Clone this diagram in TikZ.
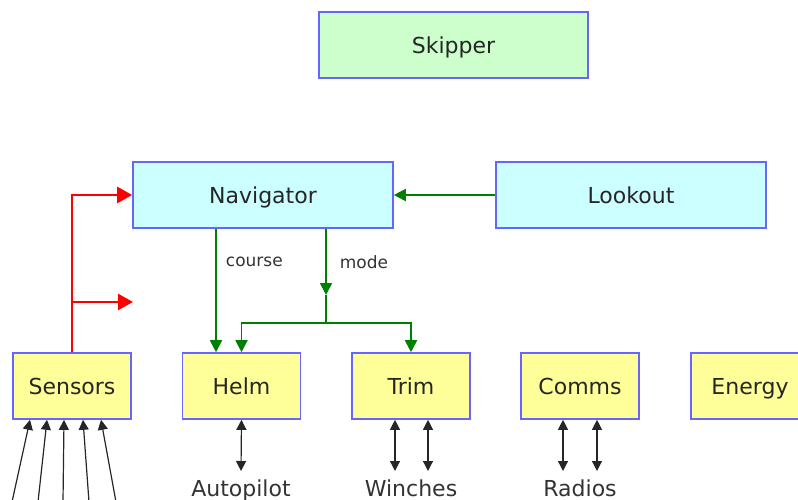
\documentclass[tikz,border=0pt]{standalone}
\usepackage{fontspec}
\setmainfont{DejaVu Sans}
\usepackage{tikz}
\usetikzlibrary{arrows.meta}

\definecolor{boxline}{HTML}{6666FF}
\definecolor{crewfill}{HTML}{CCFFCC}
\definecolor{deckfill}{HTML}{CCFFFF}
\definecolor{gearfill}{HTML}{FFFF99}
\definecolor{flowgreen}{HTML}{008000}

\tikzset{
  unit/.style={
    draw=boxline, line width=1.6pt, rectangle, inner sep=0pt,
    minimum height=66pt, font=\fontsize{22}{26}\selectfont, text=black!85,
    text height=16pt, text depth=0pt
  },
  crew/.style={unit, fill=crewfill},
  deck/.style={unit, fill=deckfill},
  gear/.style={unit, fill=gearfill, minimum width=118pt},
  ->red/.style={draw=red, line width=2.6pt, -{Triangle[length=15pt,width=16pt]}},
  ->green/.style={draw=flowgreen, line width=1.8pt, -{Triangle[length=12pt,width=12pt]}},
  ->black/.style={draw=black!85, line width=1.2pt, -{Triangle[length=10pt,width=10pt]}},
  <->black/.style={draw=black!85, line width=1.2pt, {Triangle[length=10pt,width=10pt]}-{Triangle[length=10pt,width=10pt]}},
  tag/.style={font=\fontsize{17}{20}\selectfont, text=black!80, inner sep=0pt},
  port/.style={font=\fontsize{22}{26}\selectfont, text=black!80, inner sep=0pt}
}

\begin{document}
\begin{tikzpicture}[x=1pt, y=-1pt]
\clip (0,0) rectangle (798,499);

% crew and deck
\node[crew, minimum width=269pt] (Skipper) at (453.5,45) {Skipper};
\node[deck, minimum width=260pt] (Navigator) at (263,195) {Navigator};
\node[deck, minimum width=270pt] (Lookout) at (631,195) {Lookout};

% gear row
\node[gear] (Sensors) at (72,386) {Sensors};
\node[gear] (Helm) at (241.5,386) {Helm};
\node[gear] (Trim) at (411,386) {Trim};
\node[gear] (Comms) at (580,386) {Comms};
\node[gear] (Energy) at (750,386) {Energy};

\node[port, anchor=north] (Autopilot) at (241,480) {Autopilot};
\node[port, anchor=north] (Winches) at (411,480) {Winches};
\node[port, anchor=north] (Radios) at (580,480) {Radios};

\coordinate (spare) at (133,302);
\coordinate (modetip) at (326,295);
\coordinate (fork) at (326,323);

% sensor feed
\draw[->red] (Sensors.north) |- (Navigator.west);
\draw[->red] (Sensors.north |- spare) -- (spare);

% commands
\draw[->green] (Lookout.west) -- (Navigator.east);
\draw[->green] (Navigator.south -| 216,0) -- node[tag, anchor=west, pos=0.27, xshift=9pt] {course} (Helm.north -| 216,0);
\draw[->green] (Navigator.south -| modetip) -- node[tag, anchor=west, pos=0.5, xshift=13pt] {mode} (modetip);
\draw[draw=flowgreen, line width=1.8pt] (modetip) -- (fork);
\draw[->green] (fork) -| (Helm.north);
\draw[->green] (fork) -| (Trim.north);

% outputs
\draw[<->black] (Helm.south) -- ([yshift=9pt]Autopilot.north);
\draw[<->black] (Trim.south -| 395,0) -- ([yshift=9pt]Winches.north -| 395,0);
\draw[<->black] (Trim.south -| 428,0) -- ([yshift=9pt]Winches.north -| 428,0);
\draw[<->black] (Comms.south -| 563,0) -- ([yshift=9pt]Radios.north -| 563,0);
\draw[<->black] (Comms.south -| 597,0) -- ([yshift=9pt]Radios.north -| 597,0);

% raw inputs
\foreach \from/\to in {12/30, 38/47, 63/64, 89/83, 116/101}
  \draw[->black] (\from,502) -- (Sensors.south -| \to,0);
\end{tikzpicture}
\end{document}
